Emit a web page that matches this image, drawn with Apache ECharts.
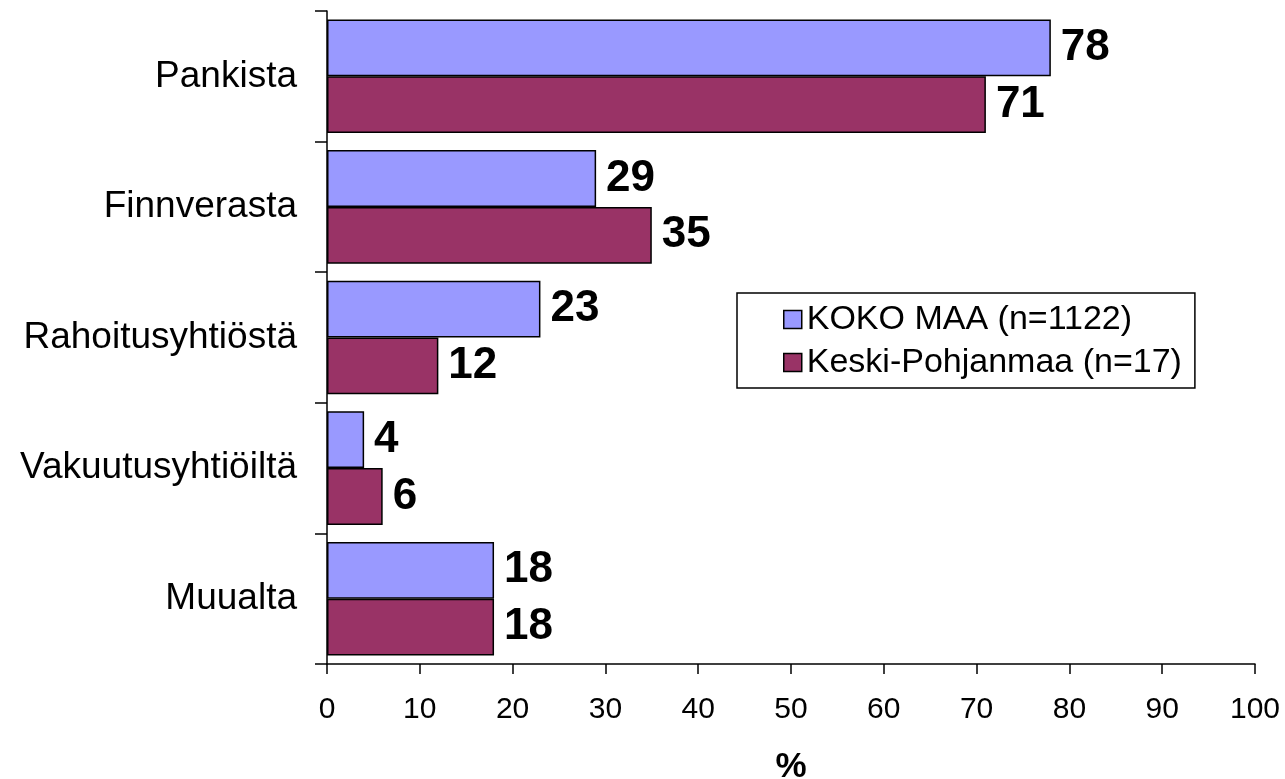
<!DOCTYPE html>
<html><head><meta charset="utf-8">
<script src="https://cdn.jsdelivr.net/npm/echarts@6/dist/echarts.min.js"></script>
<style>html,body{margin:0;padding:0;background:#fff}#c{width:1285px;height:779px}</style>
</head><body><div id="c"></div>
<script>
const categories = ['Pankista','Finnverasta','Rahoitusyhtiöstä','Vakuutusyhtiöiltä','Muualta'];
const kokoMaa = [78,29,23,4,18];
const keskiPohjanmaa = [71,35,12,6,18];
const xTicks = [0,10,20,30,40,50,60,70,80,90,100];
const seriesNames = ['KOKO MAA (n=1122)','Keski-Pohjanmaa (n=17)'];

const chart = echarts.init(document.getElementById('c'));
const labelStyle = {show:true, position:'right', distance:10, fontFamily:'Liberation Sans', fontWeight:'bold', fontSize:44, color:'#000'};
chart.setOption({
  animation:false,
  grid:{left:327, right:30, top:11, bottom:115, containLabel:false, outerBoundsMode:'none'},
  legend:{
    orient:'vertical', left:737, top:293,
    padding:[8,13,7,46], itemGap:6,
    borderColor:'#000', borderWidth:1.5, backgroundColor:'#fff',
    itemWidth:18, itemHeight:18, icon:'rect',
    textStyle:{fontFamily:'Liberation Sans', fontSize:34, lineHeight:37, color:'#000'},
    itemStyle:{borderColor:'#000', borderWidth:1.5},
    data:seriesNames
  },
  xAxis:{
    type:'value', min:0, max:100, interval:10,
    name:'%', nameLocation:'middle', nameGap:86,
    nameTextStyle:{fontFamily:'Liberation Sans', fontWeight:'bold', fontSize:35, color:'#000'},
    axisLine:{show:true, lineStyle:{color:'#000', width:1.5}},
    axisTick:{show:true, length:10, lineStyle:{color:'#000', width:1.5}},
    axisLabel:{fontFamily:'Liberation Sans', fontSize:30, color:'#000', margin:31,
      formatter:v=>xTicks.includes(v)?String(v):''},
    splitLine:{show:false}
  },
  yAxis:{
    type:'category', data:categories, inverse:true,
    axisLine:{show:true, lineStyle:{color:'#000', width:1.5}},
    axisTick:{show:true, length:12, lineStyle:{color:'#000', width:1.5}},
    axisLabel:{fontFamily:'Liberation Sans', fontSize:37, color:'#000', margin:30}
  },
  series:[
    {name:seriesNames[0], type:'bar', data:kokoMaa, barCategoryGap:'13%', barGap:'0%',
     itemStyle:{color:'#9999FF', borderColor:'#000', borderWidth:1.5}, label:labelStyle},
    {name:seriesNames[1], type:'bar', data:keskiPohjanmaa, barCategoryGap:'13%', barGap:'0%',
     itemStyle:{color:'#993366', borderColor:'#000', borderWidth:1.5}, label:labelStyle}
  ]
});
</script></body></html>
